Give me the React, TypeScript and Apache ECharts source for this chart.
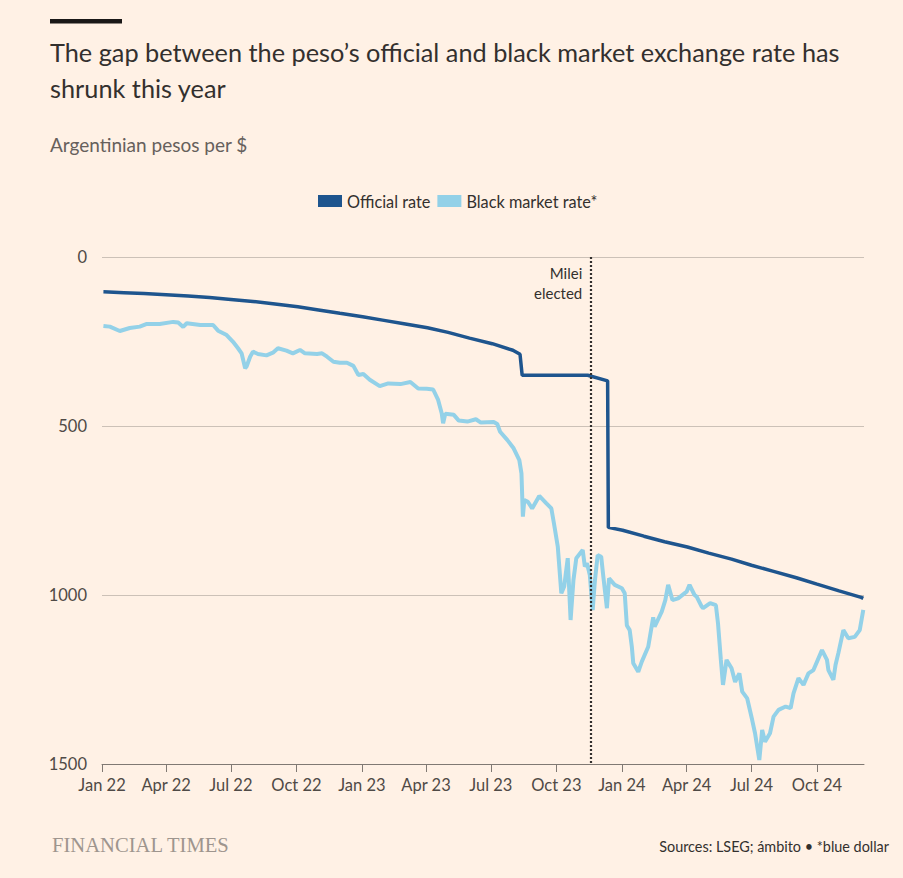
import React, { useEffect, useRef } from "react";
import * as echarts from "echarts";

const ts = (s: string) => {
  const [y, m, d] = s.split("-").map(Number);
  return Date.UTC(y, m - 1, d);
};

const FONT = "Lato";

const titleLines = [
  "The gap between the peso\u2019s official and black market exchange rate has",
  "shrunk this year",
];
const subtitle = "Argentinian pesos per $";
const sourceText = "Sources: LSEG; \u00e1mbito \u2022 *blue dollar";
const brandText = "FINANCIAL TIMES";

const xStart = "2022-01-01";
const xEnd = "2024-12-06";
const tickDates = [
  "2022-01-01", "2022-04-01", "2022-07-01", "2022-10-01",
  "2023-01-01", "2023-04-01", "2023-07-01", "2023-10-01",
  "2024-01-01", "2024-04-01", "2024-07-01", "2024-10-01",
];
const tickLabels = [
  "Jan 22", "Apr 22", "Jul 22", "Oct 22",
  "Jan 23", "Apr 23", "Jul 23", "Oct 23",
  "Jan 24", "Apr 24", "Jul 24", "Oct 24",
];
const yMin = 0;
const yMax = 1500;
const yInterval = 500;

const mileiDate = "2023-11-19";
const mileiLabel = ["Milei", "elected"];

const officialRate: [string, number][] = [
  ["2022-01-03", 103], ["2022-02-01", 105.5], ["2022-03-01", 108], ["2022-04-01", 111.5],
  ["2022-05-02", 115.5], ["2022-06-01", 120], ["2022-07-01", 125.5], ["2022-08-01", 131.5],
  ["2022-09-01", 139], ["2022-10-03", 147.5], ["2022-11-01", 156.5], ["2022-12-01", 166.5],
  ["2023-01-02", 177], ["2023-02-01", 187.5], ["2023-03-01", 197.5], ["2023-04-03", 209.5],
  ["2023-05-02", 223], ["2023-06-01", 240], ["2023-07-03", 256.5], ["2023-08-01", 276],
  ["2023-08-11", 288], ["2023-08-14", 350], ["2023-11-14", 350], ["2023-12-12", 366.5],
  ["2023-12-13", 800], ["2024-01-02", 808.5], ["2024-02-01", 826], ["2024-03-01", 842.5],
  ["2024-04-02", 858], ["2024-05-02", 876], ["2024-06-03", 894], ["2024-07-01", 912],
  ["2024-08-01", 930], ["2024-09-02", 949], ["2024-10-01", 968], ["2024-11-01", 988],
  ["2024-12-02", 1007], ["2024-12-05", 1010],
];

const blackMarketRate: [string, number][] = [
  ["2022-01-03", 204], ["2022-01-12", 206], ["2022-01-26", 219], ["2022-02-09", 210],
  ["2022-02-23", 206], ["2022-03-05", 198], ["2022-03-23", 198], ["2022-04-11", 192],
  ["2022-04-18", 194], ["2022-04-25", 207], ["2022-04-30", 196], ["2022-05-19", 201],
  ["2022-06-06", 201], ["2022-06-13", 218], ["2022-06-25", 231], ["2022-07-04", 251],
  ["2022-07-11", 270], ["2022-07-16", 285], ["2022-07-21", 329], ["2022-07-23", 324],
  ["2022-07-28", 295], ["2022-08-01", 280], ["2022-08-08", 287], ["2022-08-20", 291],
  ["2022-08-29", 283], ["2022-09-05", 270], ["2022-09-17", 277], ["2022-09-26", 285],
  ["2022-10-06", 275], ["2022-10-13", 285], ["2022-10-30", 287], ["2022-11-06", 285],
  ["2022-11-13", 295], ["2022-11-22", 310], ["2022-12-01", 313], ["2022-12-11", 313],
  ["2022-12-20", 322], ["2022-12-27", 349], ["2023-01-03", 346], ["2023-01-12", 363],
  ["2023-01-26", 382], ["2023-02-07", 374], ["2023-02-24", 376], ["2023-03-10", 370],
  ["2023-03-21", 389], ["2023-04-02", 390], ["2023-04-11", 392], ["2023-04-18", 423],
  ["2023-04-23", 462], ["2023-04-25", 492], ["2023-04-28", 464], ["2023-05-10", 467],
  ["2023-05-17", 484], ["2023-05-29", 487], ["2023-06-10", 480], ["2023-06-17", 490],
  ["2023-07-05", 488], ["2023-07-10", 494], ["2023-07-14", 517], ["2023-07-24", 541],
  ["2023-08-02", 566], ["2023-08-10", 601], ["2023-08-13", 640], ["2023-08-15", 768],
  ["2023-08-17", 719], ["2023-08-22", 724], ["2023-08-28", 744], ["2023-09-07", 707],
  ["2023-09-17", 729], ["2023-09-24", 744], ["2023-09-28", 793], ["2023-10-03", 857],
  ["2023-10-08", 995], ["2023-10-12", 975], ["2023-10-17", 891], ["2023-10-21", 1074],
  ["2023-10-25", 956], ["2023-10-29", 891], ["2023-11-07", 867], ["2023-11-10", 916],
  ["2023-11-13", 906], ["2023-11-17", 941], ["2023-11-21", 1045], ["2023-11-24", 961],
  ["2023-11-28", 882], ["2023-12-03", 887], ["2023-12-06", 946], ["2023-12-11", 1039],
  ["2023-12-14", 951], ["2023-12-22", 970], ["2024-01-01", 980], ["2024-01-05", 995],
  ["2024-01-08", 1090], ["2024-01-12", 1104], ["2024-01-15", 1153], ["2024-01-17", 1202],
  ["2024-01-24", 1227], ["2024-01-29", 1197], ["2024-02-07", 1153], ["2024-02-14", 1066],
  ["2024-02-16", 1094], ["2024-02-26", 1049], ["2024-03-02", 1015], ["2024-03-06", 970],
  ["2024-03-12", 1015], ["2024-03-20", 1010], ["2024-04-01", 990], ["2024-04-05", 970],
  ["2024-04-12", 1000], ["2024-04-15", 1005], ["2024-04-22", 1034], ["2024-04-24", 1039],
  ["2024-05-04", 1024], ["2024-05-12", 1030], ["2024-05-15", 1084], ["2024-05-19", 1192],
  ["2024-05-22", 1266], ["2024-05-27", 1192], ["2024-06-03", 1217], ["2024-06-08", 1257],
  ["2024-06-14", 1232], ["2024-06-18", 1286], ["2024-06-25", 1306], ["2024-07-02", 1370],
  ["2024-07-06", 1409], ["2024-07-12", 1488], ["2024-07-16", 1399], ["2024-07-20", 1434],
  ["2024-07-27", 1409], ["2024-08-01", 1360], ["2024-08-08", 1340], ["2024-08-18", 1330],
  ["2024-08-25", 1335], ["2024-08-29", 1291], ["2024-09-05", 1246], ["2024-09-12", 1266],
  ["2024-09-19", 1232], ["2024-09-26", 1222], ["2024-10-08", 1163], ["2024-10-15", 1192],
  ["2024-10-17", 1222], ["2024-10-24", 1251], ["2024-10-27", 1207], ["2024-10-31", 1172],
  ["2024-11-07", 1104], ["2024-11-14", 1128], ["2024-11-23", 1124], ["2024-11-30", 1104],
  ["2024-12-05", 1044],
];

const OFFICIAL_COLOR = "#1e558e";
const BLACK_COLOR = "#93d1e8";
const BG = "#fff1e5";
const TEXT_DARK = "#33302e";
const TEXT_MID = "#4f4a46";
const TEXT_SUB = "#66605c";

export default function App() {
  const ref = useRef<HTMLDivElement>(null);

  useEffect(() => {
    if (!ref.current) return;
    const chart = echarts.init(ref.current, undefined, { renderer: "svg" });
    const tickValues = tickDates.map(ts);
    const labelFor = (v: number) => {
      const i = tickValues.indexOf(v);
      return i >= 0 ? tickLabels[i] : "";
    };

    chart.setOption({
      animation: false,
      backgroundColor: BG,
      textStyle: { fontFamily: FONT },
      grid: { left: 102, right: 39, top: 257, bottom: 114, containLabel: false },
      legend: {
        left: 318,
        top: 193,
        padding: 0,
        icon: "rect",
        itemWidth: 24,
        itemHeight: 12,
        itemGap: 7,
        selectedMode: false,
        textStyle: { fontSize: 16.3, color: TEXT_DARK, fontFamily: FONT },
        data: ["Official rate", "Black market rate*"],
      },
      xAxis: {
        type: "value",
        min: ts(xStart),
        max: ts(xEnd),
        axisLine: { onZero: false, lineStyle: { color: "#807973", width: 1 } },
        axisTick: {
          show: true,
          length: 8,
          customValues: tickValues,
          lineStyle: { color: "#807973" },
        },
        axisLabel: {
          customValues: tickValues,
          formatter: (v: number) => labelFor(v),
          color: TEXT_MID,
          fontSize: 16.5,
          margin: 12,
          fontFamily: FONT,
        },
        splitLine: { show: false },
      },
      yAxis: {
        type: "value",
        inverse: true,
        min: yMin,
        max: yMax,
        interval: yInterval,
        axisLine: { show: false },
        axisTick: { show: false },
        axisLabel: {
          color: TEXT_MID,
          fontSize: 16.5,
          margin: 15,
          fontFamily: FONT,
          formatter: (v: number) => String(v),
        },
        splitLine: { lineStyle: { color: "#ccc1b7", width: 1 } },
      },
      series: [
        {
          name: "Official rate",
          type: "line",
          data: officialRate.map(([d, v]) => [ts(d), v]),
          symbol: "none",
          showSymbol: false,
          z: 3,
          lineStyle: { width: 3.5, color: OFFICIAL_COLOR },
          itemStyle: { color: OFFICIAL_COLOR },
          markLine: {
            silent: true,
            symbol: "none",
            label: { show: false },
            lineStyle: { type: [2, 2], color: TEXT_DARK, width: 2.2 },
            data: [{ xAxis: ts(mileiDate) }],
          },
        },
        {
          name: "Black market rate*",
          type: "line",
          data: blackMarketRate.map(([d, v]) => [ts(d), v]),
          symbol: "none",
          showSymbol: false,
          z: 2,
          lineStyle: { width: 4, color: BLACK_COLOR },
          itemStyle: { color: BLACK_COLOR },
        },
      ],
    });

    const mx = chart.convertToPixel({ xAxisIndex: 0 }, ts(mileiDate)) as number;
    const top = chart.convertToPixel({ yAxisIndex: 0 }, yMin) as number;

    chart.setOption({
      graphic: [
        { type: "rect", shape: { x: 50, y: 19, width: 72, height: 4.5 }, style: { fill: "#1a1817" } },
        {
          type: "text", x: 50, y: 52,
          style: { text: titleLines[0], fontSize: 25.3, fontFamily: FONT, fill: TEXT_DARK, verticalAlign: "middle" },
        },
        {
          type: "text", x: 50, y: 88,
          style: { text: titleLines[1], fontSize: 25.3, fontFamily: FONT, fill: TEXT_DARK, verticalAlign: "middle" },
        },
        {
          type: "text", x: 50, y: 144,
          style: { text: subtitle, fontSize: 19, fontFamily: FONT, fill: TEXT_SUB, verticalAlign: "middle" },
        },
        {
          type: "text", x: mx - 9, y: top + 16,
          style: { text: mileiLabel[0], fontSize: 15, fontFamily: FONT, fill: TEXT_DARK, align: "right", verticalAlign: "middle" },
        },
        {
          type: "text", x: mx - 9, y: top + 36,
          style: { text: mileiLabel[1], fontSize: 15, fontFamily: FONT, fill: TEXT_DARK, align: "right", verticalAlign: "middle" },
        },
        {
          type: "text", x: 52, y: 845,
          style: { text: brandText, fontSize: 20.6, fontFamily: "Liberation Serif", fill: "#9e958e", verticalAlign: "middle" },
        },
        {
          type: "text", x: 889, y: 846,
          style: { text: sourceText, fontSize: 14.4, fontFamily: FONT, fill: TEXT_DARK, align: "right", verticalAlign: "middle" },
        },
      ],
    });

    return () => chart.dispose();
  }, []);

  return (
    <div
      ref={ref}
      style={{ position: "fixed", left: 0, top: 0, width: 903, height: 878 }}
    />
  );
}
